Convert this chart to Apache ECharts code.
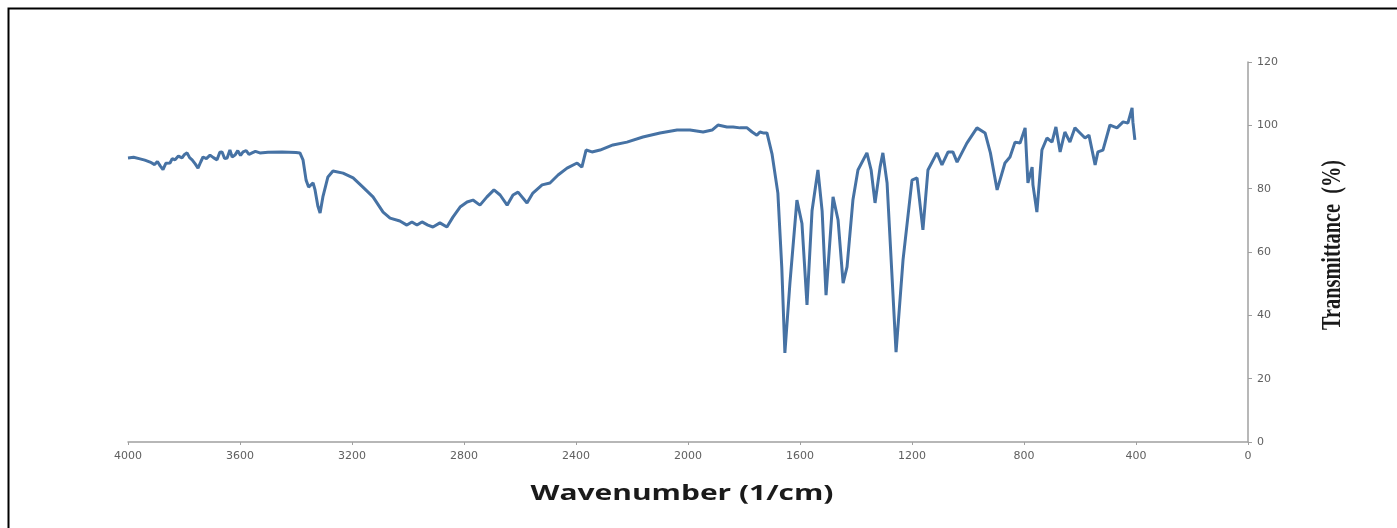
<!DOCTYPE html>
<html>
<head>
<meta charset="utf-8">
<script src="https://cdn.jsdelivr.net/npm/echarts@6/dist/echarts.min.js"></script>
<style>
html,body{margin:0;padding:0;background:#fff;}
#chart{width:1397px;height:528px;}
</style>
</head>
<body>
<div id="chart"></div>
<script>
// Wavenumber (1/cm)
var wavenumbers = [4000,3980,3957,3940,3921,3905,3895,3885,3875,3865,3850,3842,3832,3820,3807,3798,3789,3780,3771,3760,3750,3740,3732,3720,3707,3695,3682,3672,3664,3655,3646,3636,3628,3618,3608,3598,3589,3578,3568,3557,3545,3529,3500,3450,3400,3386,3375,3364,3355,3350,3339,3332,3322,3314,3304,3286,3268,3232,3196,3161,3125,3089,3064,3029,3004,2986,2968,2950,2929,2911,2886,2861,2839,2814,2789,2768,2743,2718,2693,2671,2646,2625,2607,2575,2554,2521,2493,2464,2432,2396,2379,2364,2343,2314,2268,2218,2161,2100,2039,1993,1946,1914,1893,1861,1839,1814,1789,1771,1754,1743,1732,1718,1700,1679,1665,1654,1636,1611,1593,1575,1557,1536,1521,1507,1482,1464,1446,1432,1411,1393,1361,1346,1332,1314,1304,1289,1257,1232,1200,1182,1161,1143,1111,1093,1071,1054,1039,1004,968,939,920,896,868,850,832,814,796,786,771,768,754,736,718,700,686,671,654,636,618,600,582,568,546,536,518,493,468,446,429,414,411,404];
// Transmittance (%)
var transmittance = [89.7,89.9,89.4,89.0,88.4,87.6,88.6,87.2,86.0,88.0,88.1,89.5,89.1,90.3,89.7,90.8,91.3,89.8,89.1,87.8,86.5,88.5,90.0,89.5,90.6,89.8,89.1,91.5,91.6,89.5,89.7,92.2,90.0,90.6,92.0,90.5,91.6,92.0,90.8,91.3,91.8,91.3,91.5,91.6,91.4,91.3,89.1,82.7,80.5,80.2,81.8,79.6,74.5,72.3,77.4,83.7,85.6,84.9,83.4,80.5,77.4,72.6,70.7,69.8,68.5,69.5,68.5,69.5,68.5,67.9,69.2,67.9,71.1,74.2,75.8,76.4,74.8,77.4,79.6,78.0,74.8,78.0,78.9,75.5,78.6,81.2,81.8,84.3,86.5,88.1,86.8,92.2,91.6,92.2,93.8,94.7,96.3,97.6,98.5,98.5,97.9,98.5,100.1,99.5,99.5,99.2,99.2,97.9,96.9,97.9,97.6,97.6,91.0,78.6,55.0,28.1,50.2,76.4,69.0,43.3,73.0,85.9,73.0,46.4,77.4,70.1,50.2,55.3,76.4,85.9,91.3,85.9,75.5,86.8,91.3,81.8,28.4,57.5,82.7,83.4,67.0,85.9,91.3,87.5,91.6,91.6,88.4,94.4,99.2,97.6,91.3,79.6,88.1,90.0,94.7,94.4,99.2,81.8,86.8,81.2,72.6,92.2,96.0,94.7,99.5,91.6,97.9,94.7,99.2,97.6,96.0,96.9,87.5,91.6,92.2,100.1,99.2,101.1,100.7,105.5,101.0,95.4];
var xTicks = [4000,3600,3200,2800,2400,2000,1600,1200,800,400,0];
var yTicks = [0,20,40,60,80,100,120];

var seriesData = wavenumbers.map(function (w, i) { return [w, transmittance[i]]; });

function measure(text, font) {
  var c = document.createElement('canvas').getContext('2d');
  c.font = font;
  return c.measureText(text).width;
}
var xTitle = 'Wavenumber (1/cm)';
var xTitleFont = 'bold 21px "Open Sans"';
var xTitleScale = 303 / measure(xTitle, xTitleFont);
var yTitle = 'Transmittance  (%)';
var yTitleFont = 'bold 27px "Liberation Serif"';
var yTitleScale = 170 / measure(yTitle, yTitleFont);

var chart = echarts.init(document.getElementById('chart'), null, {renderer: 'canvas'});
chart.setOption({
  animation: false,
  backgroundColor: '#ffffff',
  grid: {left: 128, right: 149, top: 62, bottom: 86, containLabel: false},
  xAxis: {
    type: 'value',
    min: xTicks[xTicks.length - 1],
    max: xTicks[0],
    interval: 400,
    inverse: true,
    axisLine: {show: true, lineStyle: {color: '#a0a0a0', width: 1.5}},
    axisTick: {show: true, length: 3, lineStyle: {color: '#a0a0a0'}},
    splitLine: {show: false},
    axisLabel: {color: '#606060', fontSize: 11, fontFamily: 'DejaVu Sans', margin: 9,
      formatter: function (v) { return String(v); }}
  },
  yAxis: {
    type: 'value',
    position: 'right',
    min: yTicks[0],
    max: yTicks[yTicks.length - 1],
    interval: 20,
    axisLine: {show: true, lineStyle: {color: '#a0a0a0', width: 1.5}},
    axisTick: {show: true, length: 4, lineStyle: {color: '#a0a0a0'}},
    splitLine: {show: false},
    axisLabel: {color: '#606060', fontSize: 11, fontFamily: 'DejaVu Sans', margin: 9,
      formatter: function (v) { return String(v); }}
  },
  series: [{
    type: 'line',
    data: seriesData,
    showSymbol: false,
    smooth: false,
    lineStyle: {color: '#4672a4', width: 3},
    itemStyle: {color: '#4672a4'}
  }],
  graphic: [
    {type: 'rect', left: 6, top: 6, shape: {x: 0, y: 0, width: 1500, height: 600},
     style: {fill: null, stroke: '#000', lineWidth: 2}, silent: true},
    {type: 'text', x: 682, y: 494, scaleX: xTitleScale,
     style: {text: xTitle, font: xTitleFont, fill: '#1a1a1a', align: 'center', verticalAlign: 'middle'}},
    {type: 'text', x: 1333, y: 245, rotation: Math.PI / 2, scaleX: yTitleScale,
     style: {text: yTitle, font: yTitleFont, fill: '#1a1a1a', align: 'center', verticalAlign: 'middle'}}
  ]
});
</script>
</body>
</html>
